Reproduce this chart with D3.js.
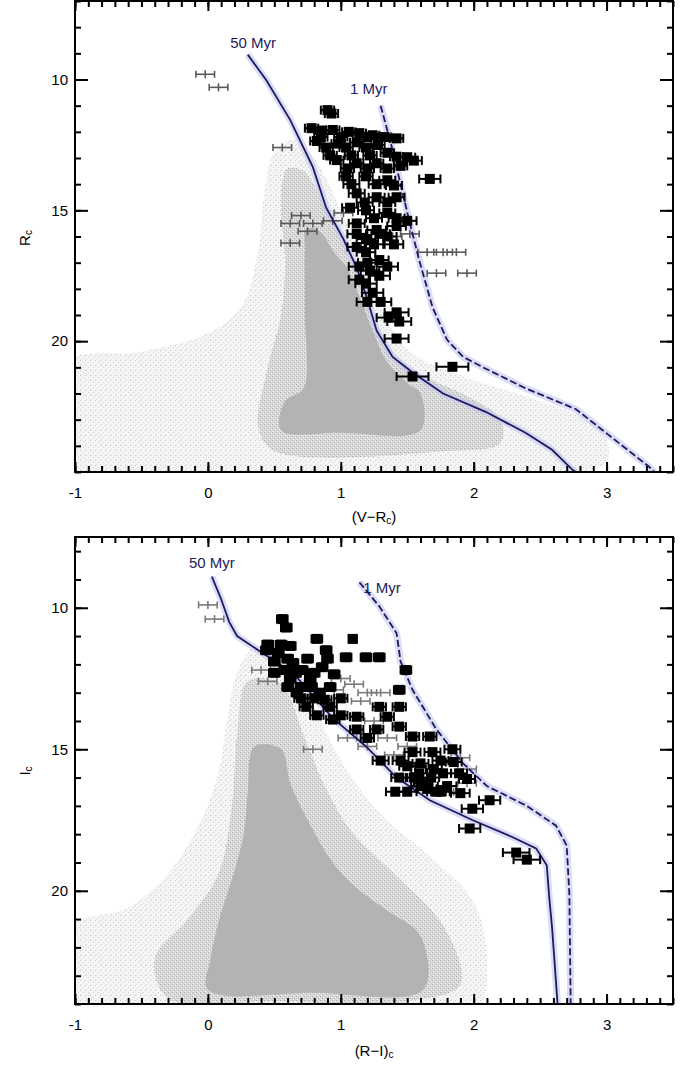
<!DOCTYPE html>
<html><head><meta charset="utf-8">
<script src="https://cdn.jsdelivr.net/npm/d3@7"></script>
<style>body{margin:0;background:#fff}svg{display:block}</style>
</head><body>
<svg id="chart" width="683" height="1067"></svg>
<script>
// ---------------- DATA ----------------
const xTickLabels = [-1, 0, 1, 2, 3];
const yTickLabels = [10, 15, 20];

// Isochrones, panel 1: [ (V-Rc), Rc ]
const topIso50 = [[0.30,9.05],[0.44,10.03],[0.62,11.55],[0.79,13.35],[0.89,14.9],[1.02,16.1],[1.12,17.2],[1.20,18.4],[1.27,19.6],[1.39,20.6],[1.54,21.2],[1.77,22.0],[2.09,22.7],[2.39,23.5],[2.59,24.15],[2.74,24.9],[2.77,25.0]];
const topIso1 = [[1.30,11.0],[1.38,12.5],[1.45,14.0],[1.52,15.5],[1.59,16.9],[1.69,18.7],[1.80,19.95],[1.92,20.6],[2.07,21.0],[2.39,21.8],[2.77,22.6],[3.07,23.8],[3.32,24.8],[3.36,25.0]];
// Isochrones, panel 2: [ (R-I)c, Ic ]
const botIso50 = [[0.03,8.9],[0.10,9.7],[0.16,10.5],[0.22,11.0],[0.41,11.6],[0.64,12.3],[0.94,13.9],[1.19,14.9],[1.42,16.0],[1.67,16.8],[1.99,17.5],[2.29,18.1],[2.47,18.5],[2.55,19.1],[2.57,20.3],[2.59,21.3],[2.63,23.9],[2.63,24.0]];
const botIso1 = [[1.14,9.1],[1.29,9.95],[1.42,10.9],[1.45,11.9],[1.54,12.9],[1.72,14.3],[1.92,15.5],[2.10,16.3],[2.40,17.0],[2.62,17.7],[2.70,18.4],[2.72,20.1],[2.73,24.0]];

// Field-star density outlines (core / medium / sparse halo)
const topFieldCore = [[0.74,15.7],[0.84,15.8],[0.95,16.6],[1.04,17.15],[1.14,18.3],[1.24,19.6],[1.35,20.8],[1.5,21.6],[1.6,22.0],[1.6,23.4],[1.0,23.5],[0.55,23.4],[0.58,22.3],[0.72,21.8],[0.73,19.0],[0.73,16.5]];
const topFieldMid = [[0.60,13.4],[0.72,13.5],[0.85,14.5],[0.95,15.4],[1.08,16.8],[1.18,18.2],[1.28,19.5],[1.42,20.6],[1.65,21.4],[1.95,22.1],[2.2,23.0],[2.2,23.9],[1.8,24.2],[0.5,24.2],[0.38,23.3],[0.45,21.0],[0.55,19.0],[0.58,17.0],[0.55,15.0],[0.56,13.9]];
const topFieldHalo = [[-1.05,20.8],[-0.5,20.4],[0.0,19.7],[0.25,18.7],[0.38,16.5],[0.42,14.5],[0.5,12.8],[0.65,12.3],[0.8,13.0],[1.0,15.0],[1.2,17.5],[1.5,20.3],[1.9,21.3],[2.5,22.3],[2.95,23.3],[3.0,24.6],[2.0,25.3],[-1.05,25.3]];
const botFieldCore = [[0.35,14.9],[0.55,15.0],[0.62,16.2],[0.74,17.4],[0.94,19.0],[1.12,19.9],[1.35,20.7],[1.6,21.6],[1.62,23.5],[0.8,23.6],[0.0,23.5],[0.02,22.4],[0.08,21.1],[0.2,19.3],[0.27,18.0],[0.3,16.5]];
const botFieldMid = [[0.3,12.6],[0.55,12.7],[0.72,14.5],[0.88,16.3],[1.08,17.9],[1.4,19.4],[1.78,21.3],[1.9,23.3],[1.5,23.9],[0.5,23.9],[-0.3,23.8],[-0.4,22.4],[-0.15,21.0],[0.08,19.4],[0.18,17.0],[0.22,14.5]];
const botFieldHalo = [[-1.05,21.3],[-0.6,20.6],[-0.3,19.4],[-0.05,17.5],[0.08,15.8],[0.15,13.8],[0.22,12.3],[0.35,11.4],[0.6,11.7],[0.78,13.3],[1.0,15.4],[1.3,17.3],[1.7,18.9],[2.0,20.4],[2.1,22.4],[2.0,24.3],[-1.05,24.3]];

// Members: colour, magnitude, colour error
const topMemC = [0.90,0.78,0.86,0.94,1.06,1.14,1.24,0.82,0.89,0.98,1.04,1.12,1.19,1.28,1.35,1.50,0.97,1.12,1.27,1.04,1.19,1.35,1.67,1.12,1.27,1.42,1.07,1.19,1.35,1.50,1.12,1.27,1.42,1.19,1.35,1.12,1.19,1.29,1.14,1.35,1.29,1.19,1.14,1.24,1.42,1.44,1.42,1.84,1.54,
  0.85,1.00,1.20,1.33,1.42,0.92,1.08,1.22,1.42,1.05,1.20,1.35,1.45,1.08,1.27,1.40,1.18,1.35,1.25,1.42,1.12,1.30,1.25,1.40,1.20,1.22,1.20,1.30,1.36,0.93,1.55];
const topMemM = [11.17,11.86,11.95,11.93,12.0,12.05,12.13,12.35,12.6,12.45,12.6,12.4,12.6,12.5,12.8,12.97,13.08,13.2,13.2,13.7,13.7,13.85,13.8,14.35,14.5,14.5,14.9,15.0,15.1,15.4,15.5,15.75,15.6,16.1,16.0,16.4,16.6,16.9,17.15,17.15,17.5,17.8,17.65,18.15,18.9,19.25,19.9,20.98,21.35,
  12.2,12.2,12.2,12.2,12.25,12.9,12.9,12.9,12.95,13.4,13.4,13.4,13.3,14.0,14.0,14.05,14.7,14.7,15.3,15.3,15.9,15.9,16.3,16.3,17.0,17.3,18.5,18.5,19.1,11.3,13.1];
const topMemE = [0.05,0.05,0.05,0.05,0.05,0.05,0.05,0.05,0.05,0.05,0.05,0.05,0.05,0.05,0.05,0.06,0.05,0.05,0.05,0.05,0.05,0.06,0.08,0.06,0.06,0.06,0.06,0.06,0.06,0.07,0.06,0.07,0.07,0.07,0.07,0.07,0.07,0.07,0.08,0.08,0.08,0.08,0.08,0.08,0.09,0.09,0.09,0.12,0.12,
  0.05,0.05,0.05,0.05,0.05,0.05,0.05,0.05,0.05,0.05,0.05,0.05,0.05,0.06,0.06,0.06,0.06,0.06,0.06,0.06,0.07,0.07,0.07,0.07,0.07,0.07,0.08,0.08,0.09,0.05,0.06];
const topNonC = [-0.02,0.08,0.56,0.62,0.70,0.79,0.94,1.02,0.62,0.75,1.39,1.52,1.65,1.77,1.87,1.72,1.95];
const topNonM = [9.8,10.3,12.6,15.5,15.2,15.5,15.4,15.1,16.25,15.8,16.0,15.9,16.6,16.6,16.6,17.4,17.4];

const botMemC = [0.56,0.59,0.44,0.53,0.82,0.89,1.09,1.04,1.19,1.29,0.64,0.71,0.86,0.62,0.77,1.49,0.67,0.84,1.44,0.74,0.92,1.29,1.44,0.94,1.12,1.35,1.12,1.27,1.44,1.54,1.67,1.54,1.69,1.84,1.44,1.59,1.77,1.89,1.65,1.80,1.41,2.12,1.99,1.97,2.32,2.40,0.50,0.58,0.70,0.80,1.00,1.60,1.70,1.50,1.62,1.75,
  0.45,0.55,0.62,0.60,0.75,0.90,0.50,0.66,0.80,0.95,0.60,0.78,0.92,0.70,0.88,0.82,1.00,1.20,1.30,1.45,1.75,1.85,1.55,1.68,1.95,1.50,1.72,1.90,1.60];
const botMemM = [10.4,10.7,11.5,11.6,11.1,11.5,11.1,11.75,11.75,11.75,11.95,12.2,12.1,12.5,12.5,12.2,13.0,13.0,12.9,13.5,13.5,13.5,13.5,13.95,13.85,13.85,14.3,14.3,14.2,14.55,14.55,15.1,15.1,15.0,16.0,15.85,15.85,15.85,16.4,16.3,16.5,16.8,17.1,17.8,18.65,18.9,11.9,12.2,12.8,13.2,13.2,15.5,15.7,15.6,16.2,16.5,
  11.3,11.3,11.35,11.8,11.8,11.8,12.3,12.3,12.3,12.35,12.8,12.8,12.8,13.2,13.25,13.8,13.8,14.6,15.4,15.4,15.4,15.45,16.0,16.0,16.05,16.5,16.5,16.55,16.3];
const botMemE = [0.04,0.04,0.04,0.04,0.04,0.04,0.03,0.04,0.04,0.04,0.04,0.04,0.04,0.04,0.04,0.04,0.04,0.04,0.04,0.05,0.05,0.05,0.05,0.05,0.05,0.05,0.05,0.05,0.05,0.05,0.05,0.06,0.06,0.06,0.06,0.06,0.06,0.06,0.07,0.07,0.07,0.08,0.08,0.08,0.10,0.10,0.04,0.04,0.04,0.05,0.05,0.06,0.06,0.06,0.07,0.07,
  0.04,0.04,0.04,0.04,0.04,0.04,0.04,0.04,0.04,0.04,0.04,0.04,0.04,0.05,0.05,0.05,0.05,0.05,0.06,0.06,0.06,0.06,0.06,0.06,0.06,0.07,0.07,0.07,0.07];
const botNonC = [0.0,0.05,0.79,1.0,1.1,1.2,0.95,1.15,1.3,1.05,1.2,1.35,1.5,1.9,1.95,1.85,1.95,0.4,0.45,1.25,1.40];
const botNonM = [9.9,10.4,15.0,12.5,12.7,13.0,12.9,13.3,13.0,14.6,14.9,14.6,14.9,15.3,15.7,16.5,16.2,12.2,12.6,14.0,15.2];

// ---------------- DRAW ----------------
const svg = d3.select("#chart");
const defs = svg.append("defs");
function speck(id, size, bg, dots) {
  const p = defs.append("pattern").attr("id", id).attr("width", size).attr("height", size).attr("patternUnits", "userSpaceOnUse");
  p.append("rect").attr("width", size).attr("height", size).attr("fill", bg);
  dots.forEach(d => p.append("rect").attr("x", d[0]).attr("y", d[1]).attr("width", 1).attr("height", 1).attr("fill", d[2]));
}
speck("spMid", 4, "#d8d8d8", [[0,0,"#acacac"],[2,2,"#b4b4b4"],[1,3,"#f6f6f6"],[3,1,"#efefef"]]);
speck("spHalo", 5, "#f5f5f5", [[0,0,"#c6c6c6"],[3,2,"#d2d2d2"],[1,4,"#dedede"]]);

const FONT = "'Liberation Sans', Arial, Helvetica, sans-serif";
const NAVY = "#1b1b5e";

function panel(o) {
  const x = d3.scaleLinear().domain([-1, 3.5]).range([75, 673]);
  const y = d3.scaleLinear().domain(o.yDom).range(o.yRange);
  const g = svg.append("g");
  const clipId = o.id + "-clip";
  defs.append("clipPath").attr("id", clipId).append("rect")
    .attr("x", x.range()[0]).attr("y", o.yRange[0])
    .attr("width", x.range()[1] - x.range()[0]).attr("height", o.yRange[1] - o.yRange[0]);
  const pg = g.append("g").attr("clip-path", `url(#${clipId})`);

  const blob = d3.line().x(d => x(d[0])).y(d => y(d[1])).curve(d3.curveCatmullRomClosed.alpha(0.5));
  pg.append("path").attr("d", blob(o.halo)).attr("fill", "url(#spHalo)");
  pg.append("path").attr("d", blob(o.mid)).attr("fill", "url(#spMid)");
  pg.append("path").attr("d", blob(o.core)).attr("fill", "#b3b3b3");

  const isoLine = d3.line().x(d => x(d[0])).y(d => y(d[1]));
  [o.iso50, o.iso1].forEach(data => {
    pg.append("path").attr("d", isoLine(data)).attr("fill", "none")
      .attr("stroke", "#c4c4f2").attr("stroke-width", 7).attr("stroke-opacity", 0.6);
  });

  // non-members (gray crosses with error bars)
  const ng = pg.append("g").attr("stroke", o.nonColor).attr("stroke-width", 1.6).attr("fill", "none");
  o.nonC.forEach((c, i) => {
    const cx = x(c), cy = y(o.nonM[i]), e = x(c + 0.07) - cx;
    ng.append("line").attr("x1", cx - e).attr("x2", cx + e).attr("y1", cy).attr("y2", cy);
    ng.append("line").attr("x1", cx - e).attr("x2", cx - e).attr("y1", cy - 3.5).attr("y2", cy + 3.5);
    ng.append("line").attr("x1", cx + e).attr("x2", cx + e).attr("y1", cy - 3.5).attr("y2", cy + 3.5);
    ng.append("line").attr("x1", cx).attr("x2", cx).attr("y1", cy - 4).attr("y2", cy + 4);
  });

  [[o.iso50, null], [o.iso1, "7,3"]].forEach(([data, dash]) => {
    pg.append("path").attr("d", isoLine(data)).attr("fill", "none")
      .attr("stroke", NAVY).attr("stroke-width", 1.8).attr("stroke-dasharray", dash);
  });

  // members (black squares with error bars)
  const mg = pg.append("g");
  o.memC.forEach((c, i) => {
    const m = o.memM[i], e = o.memE[i];
    const cx = x(c), cy = y(m), x0 = x(c - e), x1 = x(c + e);
    mg.append("line").attr("x1", x0).attr("x2", x1).attr("y1", cy).attr("y2", cy).attr("stroke", "#000").attr("stroke-width", 2);
    mg.append("line").attr("x1", x0).attr("x2", x0).attr("y1", cy - 4.5).attr("y2", cy + 4.5).attr("stroke", "#000").attr("stroke-width", 2);
    mg.append("line").attr("x1", x1).attr("x2", x1).attr("y1", cy - 4.5).attr("y2", cy + 4.5).attr("stroke", "#000").attr("stroke-width", 2);
    mg.append("rect").attr("x", cx - 5).attr("y", cy - 5).attr("width", 10).attr("height", 10).attr("fill", "#000");
  });

  o.labels.forEach(l => {
    g.append("text").attr("x", x(l.c)).attr("y", y(l.m)).text(l.t)
      .attr("font-family", FONT).attr("font-size", 15).attr("fill", NAVY)
      .attr("text-anchor", "middle").attr("dominant-baseline", "central");
  });

  // axes (ticks inward)
  const y0 = o.yRange[0], y1 = o.yRange[1];
  const minorX = d3.range(-1, 3.5001, 0.1).map(v => +v.toFixed(2));
  const minorY = d3.range(Math.ceil(o.yDom[0]), Math.floor(o.yDom[1]) + 1);
  const axStyle = sel => {
    sel.select(".domain").remove();
    sel.selectAll("line").attr("stroke", "#000").attr("stroke-width", 2);
    sel.selectAll("text").attr("font-family", FONT).attr("font-size", 15).attr("fill", "#000");
  };
  g.append("g").attr("transform", `translate(0,${y1})`)
    .call(d3.axisBottom(x).tickValues(minorX).tickSize(-6).tickFormat("")).call(axStyle);
  g.append("g").attr("transform", `translate(0,${y1})`)
    .call(d3.axisBottom(x).tickValues(xTickLabels).tickSize(-10).tickPadding(15).tickFormat(d => d < 0 ? "-" + Math.abs(d) : d)).call(axStyle);
  g.append("g").attr("transform", `translate(0,${y0})`)
    .call(d3.axisTop(x).tickValues(minorX).tickSize(-6).tickFormat("")).call(axStyle);
  g.append("g").attr("transform", `translate(0,${y0})`)
    .call(d3.axisTop(x).tickValues(xTickLabels).tickSize(-10).tickFormat("")).call(axStyle);
  g.append("g").attr("transform", `translate(75,0)`)
    .call(d3.axisLeft(y).tickValues(minorY).tickSize(-6).tickFormat("")).call(axStyle);
  g.append("g").attr("transform", `translate(75,0)`)
    .call(d3.axisLeft(y).tickValues(yTickLabels).tickSize(-13).tickPadding(7)).call(axStyle);
  g.append("g").attr("transform", `translate(673,0)`)
    .call(d3.axisRight(y).tickValues(minorY).tickSize(-6).tickFormat("")).call(axStyle);
  g.append("g").attr("transform", `translate(673,0)`)
    .call(d3.axisRight(y).tickValues(yTickLabels).tickSize(-13).tickFormat("")).call(axStyle);

  g.append("rect").attr("x", 75).attr("y", y0).attr("width", 598).attr("height", y1 - y0)
    .attr("fill", "none").attr("stroke", "#000").attr("stroke-width", 2);

  const xt = g.append("text").attr("x", 374).attr("y", o.xTitleY).attr("text-anchor", "middle")
    .attr("font-family", FONT).attr("font-size", 15).attr("dominant-baseline", "central");
  o.xTitle(xt);
  const yt = g.append("text").attr("transform", `translate(24,${o.yTitleY}) rotate(-90)`).attr("text-anchor", "middle")
    .attr("font-family", FONT).attr("font-size", 15).attr("dominant-baseline", "central");
  yt.append("tspan").text(o.yTitle);
  yt.append("tspan").text("c").attr("font-size", 10).attr("dy", 4);
}

panel({
  id: "top", yDom: [7, 25], yRange: [1, 472],
  iso50: topIso50, iso1: topIso1,
  core: topFieldCore, mid: topFieldMid, halo: topFieldHalo,
  memC: topMemC, memM: topMemM, memE: topMemE, nonC: topNonC, nonM: topNonM, nonColor: "#5a5a5a",
  labels: [{t: "50 Myr", c: 0.34, m: 8.57}, {t: "1 Myr", c: 1.21, m: 10.33}],
  xTitleY: 516,
  xTitle: t => { t.append("tspan").text("(V\u2212R"); t.append("tspan").text("c").attr("font-size", 10).attr("dy", 4); t.append("tspan").text(")").attr("dy", -4); },
  yTitle: "R", yTitleY: 238
});
panel({
  id: "bot", yDom: [7.5, 24], yRange: [537, 1004],
  iso50: botIso50, iso1: botIso1,
  core: botFieldCore, mid: botFieldMid, halo: botFieldHalo,
  memC: botMemC, memM: botMemM, memE: botMemE, nonC: botNonC, nonM: botNonM, nonColor: "#7a7a7a",
  labels: [{t: "50 Myr", c: 0.03, m: 8.4}, {t: "1 Myr", c: 1.31, m: 9.3}],
  xTitleY: 1050,
  xTitle: t => { t.append("tspan").text("(R\u2212I)"); t.append("tspan").text("c").attr("font-size", 10).attr("dy", 4); },
  yTitle: "I", yTitleY: 771
});
</script>
</body></html>
